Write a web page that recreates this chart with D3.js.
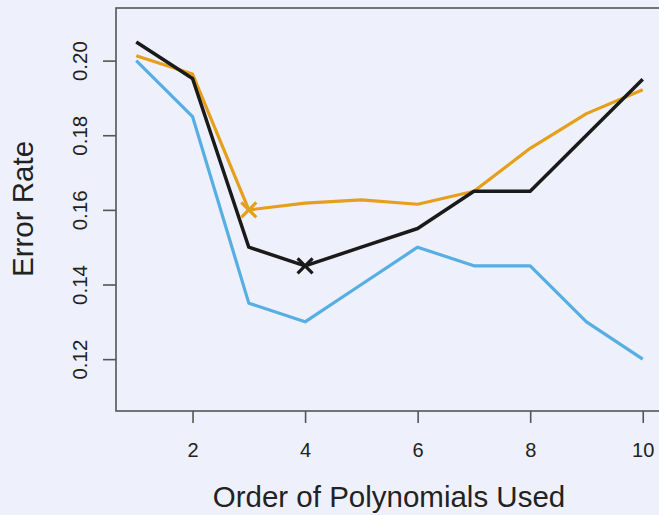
<!DOCTYPE html>
<html>
<head>
<meta charset="utf-8">
<script src="https://cdn.jsdelivr.net/npm/d3@7"></script>
<style>
  html, body { margin: 0; padding: 0; background: #eef1fb; }
  svg { display: block; }
  text { font-family: "Liberation Sans", Arial, Helvetica, sans-serif; fill: #222; }
</style>
</head>
<body>
<svg id="chart" width="659" height="515"></svg>
<script>
// Polynomial order on the x-axis
const orders = [1, 2, 3, 4, 5, 6, 7, 8, 9, 10];

// Error rate curves
const blueErr   = [0.200, 0.185, 0.135, 0.130, 0.140, 0.150, 0.145, 0.145, 0.130, 0.120];
const orangeErr = [0.2013, 0.1964, 0.160, 0.1618, 0.1627, 0.1615, 0.1650, 0.1765, 0.1858, 0.1922];
const blackErr  = [0.205, 0.1952, 0.150, 0.145, 0.150, 0.155, 0.165, 0.165, 0.180, 0.195];

// Minimum markers
const minMarks = [
  { x: 3, y: 0.160, color: "#e69f1c" },
  { x: 4, y: 0.145, color: "#1a1a1a" }
];

const xTicks = [2, 4, 6, 8, 10];
const yTicks = [0.12, 0.14, 0.16, 0.18, 0.20];

const svg = d3.select("#chart");
const frame = { left: 116, top: 8, bottom: 411, right: 663 };

const x = d3.scaleLinear().domain([0.64, 10.36]).range([frame.left, frame.right]);
const y = d3.scaleLinear().domain([0.1061, 0.2141]).range([frame.bottom, frame.top]);

// Plot frame
svg.append("rect")
  .attr("x", frame.left).attr("y", frame.top)
  .attr("width", frame.right - frame.left).attr("height", frame.bottom - frame.top)
  .attr("fill", "none").attr("stroke", "#555").attr("stroke-width", 1.6);

// Y axis: ticks outside, labels parallel to the axis
const yAxis = svg.append("g")
  .attr("transform", `translate(${frame.left},0)`)
  .call(d3.axisLeft(y).tickValues(yTicks).tickSize(13).tickFormat(d3.format(".2f")));
yAxis.select(".domain").remove();
yAxis.selectAll(".tick line").attr("stroke", "#555").attr("stroke-width", 1.6);
yAxis.selectAll(".tick text")
  .attr("x", null).attr("dy", null)
  .attr("transform", "translate(-29,0) rotate(-90)")
  .attr("text-anchor", "middle")
  .style("font-size", "20.5px")
  .style("font-family", "'Liberation Sans', Arial, sans-serif")
  .attr("fill", "#222");

// X axis
const xAxis = svg.append("g")
  .attr("transform", `translate(0,${frame.bottom})`)
  .call(d3.axisBottom(x).tickValues(xTicks).tickSize(12));
xAxis.select(".domain").remove();
xAxis.selectAll(".tick line").attr("stroke", "#555").attr("stroke-width", 1.6);
xAxis.selectAll(".tick text")
  .attr("y", 46).attr("dy", null)
  .style("font-size", "20px")
  .style("font-family", "'Liberation Sans', Arial, sans-serif")
  .attr("fill", "#222");

// Axis titles
svg.append("text")
  .attr("x", 389).attr("y", 507)
  .attr("text-anchor", "middle")
  .style("font-size", "29.5px")
  .text("Order of Polynomials Used");

svg.append("text")
  .attr("transform", "translate(33,209) rotate(-90)")
  .attr("text-anchor", "middle")
  .style("font-size", "29.5px")
  .text("Error Rate");

// Curves
const line = d3.line().x((d, i) => x(orders[i])).y(d => y(d));
const series = [
  { values: blueErr, color: "#56aee2", width: 3.2 },
  { values: orangeErr, color: "#e69f1c", width: 3.2 },
  { values: blackErr, color: "#1a1a1a", width: 3.5 }
];
svg.append("g").selectAll("path")
  .data(series)
  .join("path")
  .attr("d", d => line(d.values))
  .attr("fill", "none")
  .attr("stroke", d => d.color)
  .attr("stroke-width", d => d.width)
  .attr("stroke-linejoin", "round");

// Cross markers at the minima
const s = 7.5;
const marks = svg.append("g").selectAll("g")
  .data(minMarks)
  .join("g")
  .attr("transform", d => `translate(${x(d.x)},${y(d.y)})`);
marks.append("path")
  .attr("d", `M${-s},${-s}L${s},${s}M${-s},${s}L${s},${-s}`)
  .attr("stroke", d => d.color)
  .attr("stroke-width", 3.2)
  .attr("fill", "none");
</script>
</body>
</html>
